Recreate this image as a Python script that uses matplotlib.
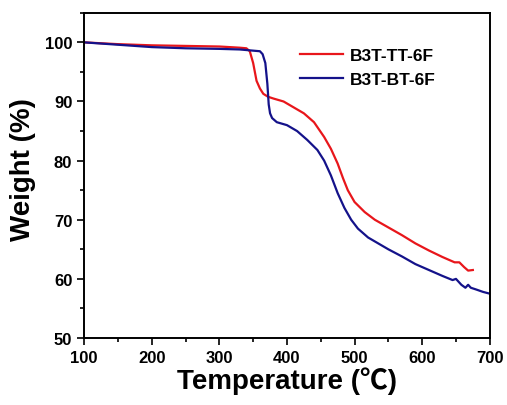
import matplotlib
matplotlib.use("Agg")
import matplotlib.pyplot as plt
from matplotlib.ticker import MultipleLocator

plt.rcParams['font.family'] = ['Liberation Sans', 'DejaVu Sans']

temp_tt = [100, 150, 200, 250, 300, 330, 340, 345, 350, 355, 360, 365, 372, 380, 395, 410, 425, 440,
           455, 465, 475, 483, 490, 500, 515, 530, 550, 570, 590, 610, 630, 648, 655, 662, 668, 675]
weight_tt = [100, 99.7, 99.5, 99.4, 99.3, 99.1, 99.0, 98.5, 96.5, 93.5, 92.2, 91.3, 90.8, 90.5, 90.0, 89.0,
             88.0, 86.5, 84.0, 82.0, 79.5, 77.0, 75.0, 73.0, 71.3, 70.0, 68.7, 67.4, 66.0, 64.8, 63.7,
             62.8, 62.8, 62.0, 61.4, 61.5]

temp_bt = [100, 150, 200, 250, 300, 330, 350, 360, 364, 368, 371, 373, 375, 378, 385, 400, 415, 430, 445,
           455, 465, 475, 485, 495, 505, 520, 535, 550, 570, 590, 610, 630, 645, 650, 658, 664, 668,
           672, 680, 690, 700]
weight_bt = [100, 99.6, 99.2, 99.0, 98.9, 98.8, 98.6, 98.5, 98.0, 96.5, 93.0, 89.5, 88.0, 87.2, 86.5, 86.0,
             85.0, 83.5, 81.8, 80.0, 77.5, 74.5, 72.0, 70.0, 68.5, 67.0, 66.0, 65.0, 63.8, 62.5,
             61.5, 60.5, 59.8, 60.0, 59.0, 58.5, 59.0, 58.5, 58.2, 57.8, 57.5]

labels = ['B3T-TT-6F', 'B3T-BT-6F']
colors = ['#e8161b', '#14128a']

fig = plt.figure(figsize=(5.07, 4.06), dpi=100)
ax = fig.add_axes([0.166, 0.165, 0.800, 0.801])

ax.plot(temp_tt, weight_tt, color=colors[0], lw=1.6, label=labels[0])
ax.plot(temp_bt, weight_bt, color=colors[1], lw=1.6, label=labels[1])

ax.set_xlim(100, 700)
ax.set_ylim(50, 105)
ax.xaxis.set_major_locator(MultipleLocator(100))
ax.xaxis.set_minor_locator(MultipleLocator(50))
ax.yaxis.set_minor_locator(MultipleLocator(5))
ax.set_yticks([50, 60, 70, 80, 90, 100])

ax.tick_params(which='both', direction='out', top=False, right=False, width=1.2)
ax.tick_params(which='major', length=5, labelsize=12)
ax.tick_params(which='minor', length=3)
for lbl in ax.get_xticklabels() + ax.get_yticklabels():
    lbl.set_fontweight('bold')
for s in ax.spines.values():
    s.set_linewidth(1.4)

ax.set_xlabel('Temperature (℃)', fontsize=20, fontweight='bold',
              family=['Liberation Sans', 'Noto Sans CJK SC'], labelpad=1)
ax.set_ylabel('Weight (%)', fontsize=20, fontweight='bold')
ax.yaxis.set_label_coords(-0.118, 0.52)

ax.legend(loc='upper left', bbox_to_anchor=(0.532, 0.893), frameon=False,
          prop={'size': 12.5, 'weight': 'bold'},
          handlelength=2.5, handletextpad=0.4, labelspacing=0.52,
          borderaxespad=0, borderpad=0)

fig.savefig('out.png', dpi=100)
